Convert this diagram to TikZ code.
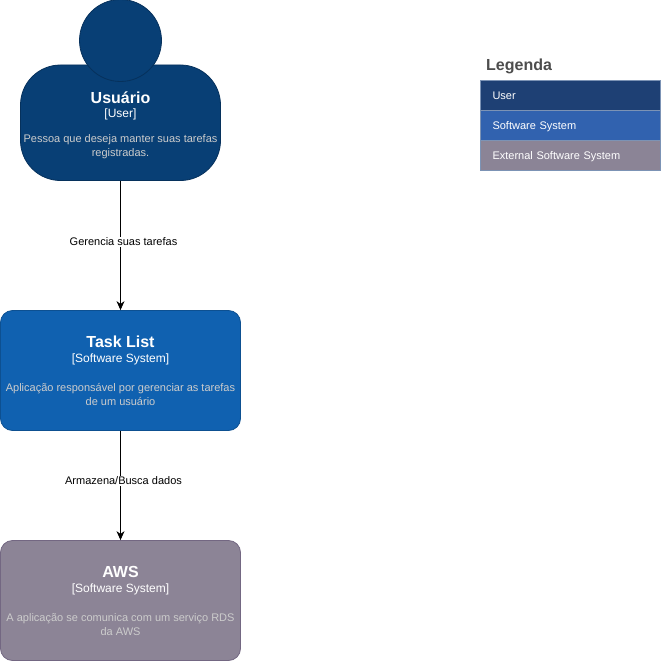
\documentclass[tikz,border=0pt]{standalone}
\usepackage{fontspec}
\setmainfont{Liberation Sans}
\usetikzlibrary{arrows.meta}
\definecolor{personfill}{HTML}{083F75}
\definecolor{personline}{HTML}{06315C}
\definecolor{sysfill}{HTML}{1061B0}
\definecolor{sysline}{HTML}{0D5091}
\definecolor{extfill}{HTML}{8C8496}
\definecolor{extline}{HTML}{736782}
\definecolor{legA}{HTML}{1E4074}
\definecolor{legB}{HTML}{3162AF}
\definecolor{legC}{HTML}{8B8496}
\definecolor{legline}{HTML}{7C93B5}
\definecolor{desc}{HTML}{CCCCCC}
\definecolor{legtitle}{HTML}{4D4D4D}
\tikzset{
  x=1pt,y=-1pt,
  box/.style={draw,line width=0.8pt,rounded corners=12pt,minimum width=240pt,minimum height=120pt,inner sep=0pt},
  title/.style={text=white,font=\fontsize{16}{16}\selectfont\bfseries,inner sep=0pt},
  kind/.style={text=white,font=\fontsize{12}{14}\selectfont,inner sep=0pt},
  info/.style={text=desc,font=\fontsize{11}{14}\selectfont,align=center,inner sep=0pt},
  edgelabel/.style={fill=white,text=black,font=\fontsize{11}{13}\selectfont,inner xsep=1pt,inner ysep=1pt},
  flow/.style={draw=black,line width=0.8pt,-{Stealth[length=9pt,width=8pt]}},
  legrow/.style={draw=legline,line width=0.8pt,minimum width=180pt,minimum height=30pt,inner ysep=0pt,text=white,
    font=\fontsize{11}{13}\selectfont,text width=156pt,align=left,inner xsep=12pt,text height=10pt,text depth=2pt}
}
\begin{document}
\begin{tikzpicture}
\useasboundingbox (0,0) rectangle (661,661);
% person
\node[box,fill=personfill,draw=personline,rounded corners=40pt,minimum width=200pt,minimum height=115.5pt] (body) at (120.5,122.75) {};
\node[circle,fill=personfill,draw=personline,line width=0.8pt,minimum size=82pt,inner sep=0pt] (head) at (120.5,40.5) {};
\node[title] (t1) at (120.5,97.7) {Usuário};
\node[kind] (k1) at (120.5,114.3) {[User]};
\node[info] (d1) at (120.5,146.5) {Pessoa que deseja manter suas tarefas\\registradas.};
% task list
\node[box,fill=sysfill,draw=sysline] (task) at (120.5,370.5) {};
\node[title] (t2) at (120.5,341.7) {Task List};
\node[kind] (k2) at (120.5,359.3) {[Software System]};
\node[info] (d2) at (120.5,394) {Aplicação responsável por gerenciar as tarefas\\de um usuário};
% aws
\node[box,fill=extfill,draw=extline] (aws) at (120.5,600.5) {};
\node[title] (t3) at (120.5,571.7) {AWS};
\node[kind] (k3) at (120.5,589.3) {[Software System]};
\node[info] (d3) at (120.5,624.5) {A aplicação se comunica com um serviço RDS\\da AWS};
% connectors
\draw[flow] (body.south) -- (task.north) node[pos=0.47,edgelabel,xshift=3pt] (l1) {Gerencia suas tarefas};
\draw[flow] (task.south) -- (aws.north) node[pos=0.455,edgelabel,xshift=3pt] (l2) {Armazena/Busca dados};
% legend
\node[text=legtitle,font=\fontsize{16}{16}\selectfont\bfseries,anchor=west,inner sep=0pt] (lt) at (486,66.3) {Legenda};
\node[legrow,fill=legA] (la) at (570.5,95.5) {User};
\node[legrow,fill=legB] (lb) at (570.5,125.5) {Software System};
\node[legrow,fill=legC] (lc) at (570.5,155.5) {External Software System};
\end{tikzpicture}
\end{document}
